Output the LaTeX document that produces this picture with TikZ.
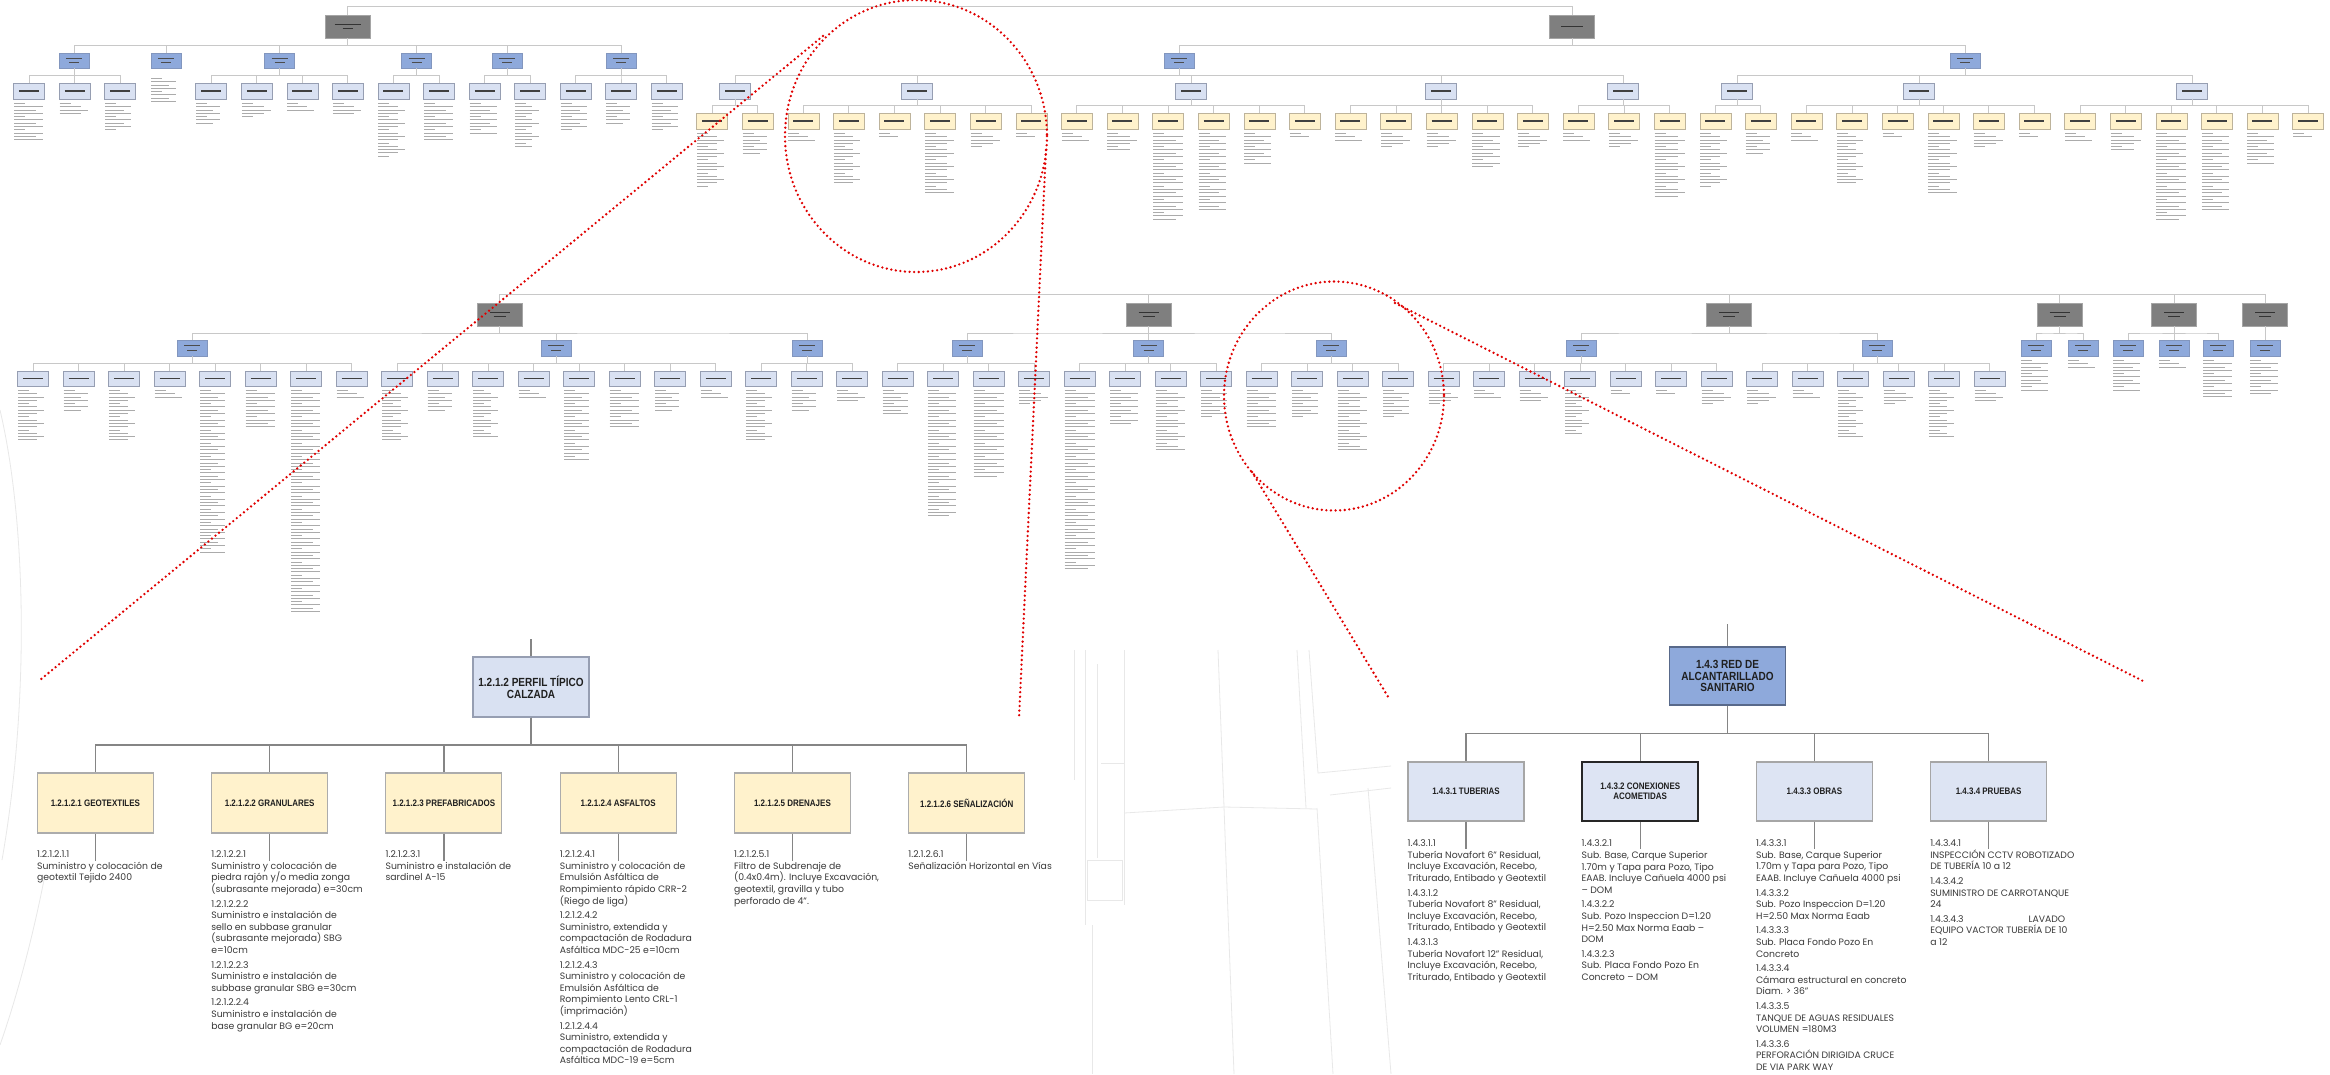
\documentclass[tikz,border=0pt]{standalone}
\usepackage{fontspec}
\setmainfont{Poppins}
\newfontfamily\boxfont[FakeStretch=0.85]{Liberation Sans}
\usetikzlibrary{calc}

\definecolor{darkfill}{HTML}{7F7F7F}
\definecolor{darkedge}{HTML}{A5A5A5}
\definecolor{bluefill}{HTML}{8EA9DB}
\definecolor{blueedge}{HTML}{8296BE}
\definecolor{bluebigedge}{HTML}{58698A}
\definecolor{palefill}{HTML}{D9E1F2}
\definecolor{paleedge}{HTML}{969EB2}
\definecolor{yelfill}{HTML}{FFF2CC}
\definecolor{yeledge}{HTML}{BDB39B}
\definecolor{linkgray}{HTML}{858585}
\definecolor{toplinkc}{HTML}{C8C8C8}
\definecolor{textgray}{HTML}{3A3A3A}
\definecolor{fakegray}{HTML}{ABABAB}
\definecolor{bgline}{HTML}{E8E8E8}
\definecolor{calloutred}{HTML}{E00000}

\newcommand{\mk}[1]{\rule{#1pt}{1.1pt}}
\newcommand{\conn}[3][link]{\draw[#1] (#2.south) |- ($(#2.south)!.5!(#3.north)$) -| (#3.north);}
\newcommand{\fakelines}[3]{\ifnum#3>0
  \foreach \i in {1,...,#3}{
    \pgfmathsetmacro{\len}{mod(\i,4)==1 ? 11 : 17+mod(7*\i+#3,14)}
    \draw[fake] (#1,#2+3.3*\i) -- ++(\len,0);
  }\fi}
\newcommand{\gap}{\\[3pt]}

\begin{document}
\begin{tikzpicture}[x=1pt,y=-1pt,
  link/.style={draw=linkgray,line width=1.3pt},
  toplink/.style={draw=toplinkc,line width=1pt},
  fake/.style={draw=fakegray,line width=.75pt},
  bg/.style={draw=bgline,line width=.8pt},
  callout/.style={draw=calloutred,line width=2.6pt,line cap=round,dash pattern=on 0pt off 4.6pt},
  tiny/.style={inner sep=0,align=center,text=black!75,font=\fontsize{2}{3}\selectfont},
  darkbox/.style={tiny,draw=darkedge,fill=darkfill,text=black!80,minimum width=45,minimum height=23},
  bluebox/.style={tiny,draw=blueedge,fill=bluefill,text=black!70,minimum width=30,minimum height=15.5},
  palebox/.style={tiny,draw=paleedge,fill=palefill,minimum width=31,minimum height=15.5},
  yelbox/.style={tiny,draw=yeledge,fill=yelfill,minimum width=31,minimum height=16},
  bigbox/.style={inner sep=0,align=center,text=black!88,minimum width=116,minimum height=59,line width=1.1pt},
  palebig/.style={bigbox,draw=paleedge,fill=palefill,minimum height=60,font={\boxfont\fontsize{11.8}{11.7}\selectfont\bfseries}},
  yelbig/.style={bigbox,draw=gray!65,fill=yelfill,minimum height=60,font={\boxfont\fontsize{9.4}{10}\selectfont\bfseries}},
  bluebig/.style={bigbox,draw=bluebigedge,fill=bluefill,minimum height=58,font={\boxfont\fontsize{11.8}{11.7}\selectfont\bfseries}},
  palemid/.style={bigbox,draw=gray!70,fill=palefill!90!white,font={\boxfont\fontsize{9.4}{9.5}\selectfont\bfseries}},
  itemtext/.style={anchor=north west,inner sep=0,align=left,text=textgray,font=\fontsize{9.3}{11.6}\selectfont}]

\fill[white] (0,0) rectangle (2330,1074);
\useasboundingbox (0,0) rectangle (2330,1074);

% faint drawing behind the charts
\draw[bg] (0,410) .. controls (26,520) and (30,700) .. (2,860);
\draw[bg] (44,880) .. controls (30,950) and (14,1005) .. (0,1045);
\draw[bg] (1074,650) -- (1074,780);
\draw[bg] (1085,650) -- (1085,925);
\draw[bg] (1097,664) -- (1097,858);
\draw[bg] (1124,650) -- (1124,905);
\draw[bg] (1101,763) -- (1124,763);
\draw[bg] (1087,860) rectangle (1122,900);
\draw[bg] (1092,925) -- (1092,1074);
\draw[bg] (1124,813) -- (1224,807) -- (1317,809);
\draw[bg] (1218,650) -- (1224,807) -- (1234,1074);
\draw[bg] (1297,650) -- (1306,808);
\draw[bg] (1309,650) -- (1318,773) -- (1391,766);
\draw[bg] (1317,808) -- (1333,1074);
\draw[bg] (1330,795) -- (1391,788);
\draw[bg] (1368,788) -- (1391,1074);

% ---- upper chart, first row
\node[darkbox] (d1) at (347.5,26.5) {\mk{26}\\[1.5pt]\mk{10}};
\node[darkbox] (d2) at (1572,26.5) {\mk{22}};
\draw[toplink] (d1.north) -- ++(0,-8) -| (d2.north);
\foreach \x/\p [count=\n] in {74/d1,166/d1,279.5/d1,416.5/d1,507/d1,621/d1,1179/d2,1965/d2}{
  \node[bluebox] (a\n) at (\x,60.5) {\mk{16}\\[1.5pt]\mk{10}};
  \conn[toplink]{\p}{a\n}
}
\fakelines{151}{75}{8}
\foreach \x/\p/\c [count=\n] in {29/1/12,74.5/1/4,120/1/9,211/3/7,256.8/3/5,302.3/3/3,347.9/3/4,393.4/4/17,439/4/12,484.5/5/10,530/5/14,575.6/6/9,621/6/7,666.7/6/9,735/7/0,917/7/0,1191/7/0,1441/7/0,1623/7/0,1737/8/0,1919/8/0,2192/8/0}{
  \node[palebox] (l\n) at (\x,91) {\mk{20}};
  \conn[toplink]{a\p}{l\n}
  \fakelines{\x-15}{100}{\c}
}
\foreach \p/\c [count=\k from 0] in {15/17,15/7,16/3,16/16,16/2,16/19,16/5,16/2,17/3,17/6,17/27,17/24,17/10,17/2,18/3,18/5,18/5,18/11,18/5,19/3,19/5,19/20,20/17,20/7,21/3,21/16,21/2,21/19,21/5,21/2,22/3,22/6,22/27,22/24,22/10,22/2}{
  \node[yelbox] (y\k) at (712+45.6*\k,121) {\mk{20}};
  \conn[toplink]{l\p}{y\k}
  \fakelines{712+45.6*\k-15}{130}{\c}
}

% ---- upper chart, second row
\foreach \x [count=\n] in {499.5,1148.5,1729,2059.5,2174,2265}
  \node[darkbox] (e\n) at (\x,314.5) {\mk{20}\\[1.5pt]\mk{12}};
\draw[toplink] (e1.north) -- ++(0,-8) -| (e6.north);
\foreach \n in {2,...,5} \draw[toplink] (e\n.north) -- ++(0,-8);
\foreach \x/\p/\c [count=\n] in {192/1/0,556/1/0,807/1/0,967/2/0,1148.5/2/0,1331/2/0,1581/3/0,1877/3/0,2036/4/10,2083/4/3,2128/5/10,2174/5/3,2218/5/12,2265/6/11}{
  \node[bluebox,minimum height=16] (b\n) at (\x,348) {\mk{16}\\[1.5pt]\mk{10}};
  \conn[toplink]{e\p}{b\n}
  \fakelines{\x-15}{357}{\c}
}
\foreach \p/\c [count=\k from 0] in {1/16,1/7,1/16,1/3,1/50,1/12,1/68,1/3,2/16,2/7,2/15,2/3,2/22,2/12,2/7,2/3,3/16,3/7,3/4,4/8,4/39,4/27,4/5,5/55,5/11,5/19,5/9,6/12,6/9,6/19,6/9,7/5,7/3,7/4,7/14,7/2,7/2,7/5,8/5,8/3,8/15,8/5,8/15,8/4}{
  \node[palebox] (m\k) at (33+45.5*\k,378.5) {\mk{20}};
  \conn[toplink]{b\p}{m\k}
  \fakelines{33+45.5*\k-15}{387}{\c}
}

% ---- enlarged 1.2.1.2
\node[palebig] (perfil) at (531,687) {1.2.1.2 PERFIL TÍPICO\\CALZADA};
\draw[link] (perfil.north) -- ++(0,-17);
\foreach \lbl [count=\n] in {GEOTEXTILES,GRANULARES,PREFABRICADOS,ASFALTOS,DRENAJES,SEÑALIZACIÓN}{
  \node[yelbig] (perfil\n) at (95.4+174.26*\n-174.26,803) {1.2.1.2.\n\ \lbl};
  \conn{perfil}{perfil\n}
  \draw[link] (perfil\n.south) -- ++(0,27);
}
\node[itemtext] (perfil1t) at ($(perfil1.south west)+(0,17)$) {1.2.1.2.1.1\\Suministro y colocación de\\geotextil Tejido 2400};
\node[itemtext] (perfil2t) at ($(perfil2.south west)+(0,17)$) {1.2.1.2.2.1\\Suministro y colocación de\\piedra rajón y/o media zonga\\(subrasante mejorada) e=30cm\gap
  1.2.1.2.2.2\\Suministro e instalación de\\sello en subbase granular\\(subrasante mejorada) SBG\\e=10cm\gap
  1.2.1.2.2.3\\Suministro e instalación de\\subbase granular SBG e=30cm\gap
  1.2.1.2.2.4\\Suministro e instalación de\\base granular BG e=20cm};
\node[itemtext] (perfil3t) at ($(perfil3.south west)+(0,17)$) {1.2.1.2.3.1\\Suministro e instalación de\\sardinel A-15};
\node[itemtext] (perfil4t) at ($(perfil4.south west)+(0,17)$) {1.2.1.2.4.1\\Suministro y colocación de\\Emulsión Asfáltica de\\Rompimiento rápido CRR-2\\(Riego de liga)\gap
  1.2.1.2.4.2\\Suministro, extendida y\\compactación de Rodadura\\Asfáltica MDC-25 e=10cm\gap
  1.2.1.2.4.3\\Suministro y colocación de\\Emulsión Asfáltica de\\Rompimiento Lento CRL-1\\(imprimación)\gap
  1.2.1.2.4.4\\Suministro, extendida y\\compactación de Rodadura\\Asfáltica MDC-19 e=5cm};
\node[itemtext] (perfil5t) at ($(perfil5.south west)+(0,17)$) {1.2.1.2.5.1\\Filtro de Subdrenaje de\\(0.4x0.4m). Incluye Excavación,\\geotextil, gravilla y tubo\\perforado de 4".};
\node[itemtext] (perfil6t) at ($(perfil6.south west)+(0,17)$) {1.2.1.2.6.1\\Señalización Horizontal en Vías};

% ---- enlarged 1.4.3
\node[bluebig] (redsan) at (1727.5,676) {1.4.3 RED DE\\ALCANTARILLADO\\SANITARIO};
\draw[link] (redsan.north) -- ++(0,-22);
\node[palemid] (redsan1) at (1466,791.5) {1.4.3.1 TUBERIAS};
\node[palemid,draw=black!85,line width=1.6pt] (redsan2) at (1640.2,791.5) {1.4.3.2 CONEXIONES\\ACOMETIDAS};
\node[palemid] (redsan3) at (1814.4,791.5) {1.4.3.3 OBRAS};
\node[palemid] (redsan4) at (1988.6,791.5) {1.4.3.4 PRUEBAS};
\foreach \n in {1,...,4}{
  \conn{redsan}{redsan\n}
  \draw[link] (redsan\n.south) -- ++(0,27);
}
\node[itemtext] (redsan1t) at ($(redsan1.south west)+(0,18)$) {1.4.3.1.1\\Tubería Novafort 6" Residual,\\Incluye Excavación, Recebo,\\Triturado, Entibado y Geotextil\gap
  1.4.3.1.2\\Tubería Novafort 8" Residual,\\Incluye Excavación, Recebo,\\Triturado, Entibado y Geotextil\gap
  1.4.3.1.3\\Tubería Novafort 12" Residual,\\Incluye Excavación, Recebo,\\Triturado, Entibado y Geotextil};
\node[itemtext] (redsan2t) at ($(redsan2.south west)+(0,18)$) {1.4.3.2.1\\Sub. Base, Carque Superior\\1.70m y Tapa para Pozo, Tipo\\EAAB. Incluye Cañuela 4000 psi\\– DOM\gap
  1.4.3.2.2\\Sub. Pozo Inspeccion D=1.20\\H=2.50 Max Norma Eaab –\\DOM\gap
  1.4.3.2.3\\Sub. Placa Fondo Pozo En\\Concreto – DOM};
\node[itemtext] (redsan3t) at ($(redsan3.south west)+(0,18)$) {1.4.3.3.1\\Sub. Base, Carque Superior\\1.70m y Tapa para Pozo, Tipo\\EAAB. Incluye Cañuela 4000 psi\gap
  1.4.3.3.2\\Sub. Pozo Inspeccion D=1.20\\H=2.50 Max Norma Eaab\gap
  1.4.3.3.3\\Sub. Placa Fondo Pozo En\\Concreto\gap
  1.4.3.3.4\\Cámara estructural en concreto\\Diam. > 36"\gap
  1.4.3.3.5\\TANQUE DE AGUAS RESIDUALES\\VOLUMEN =180M3\gap
  1.4.3.3.6\\PERFORACIÓN DIRIGIDA CRUCE\\DE VIA PARK WAY};
\node[itemtext] (redsan4t) at ($(redsan4.south west)+(0,18)$) {1.4.3.4.1\\INSPECCIÓN CCTV ROBOTIZADO\\DE TUBERÍA 10 a 12\gap
  1.4.3.4.2\\SUMINISTRO DE CARROTANQUE\\24\gap
  \makebox[135pt][l]{1.4.3.4.3\hfill LAVADO}\\EQUIPO VACTOR TUBERÍA DE 10\\a 12};

% ---- red call-outs
\draw[callout] (916,136) ellipse [x radius=131,y radius=136];
\draw[callout] (823,36) -- (40,680);
\draw[callout] (1046,150) -- (1019,718);
\draw[callout] (1334,396) ellipse [x radius=110,y radius=114.5];
\draw[callout] (1252,472) -- (1390,700);
\draw[callout] (1395,303) -- (2143,681);
\end{tikzpicture}
\end{document}
